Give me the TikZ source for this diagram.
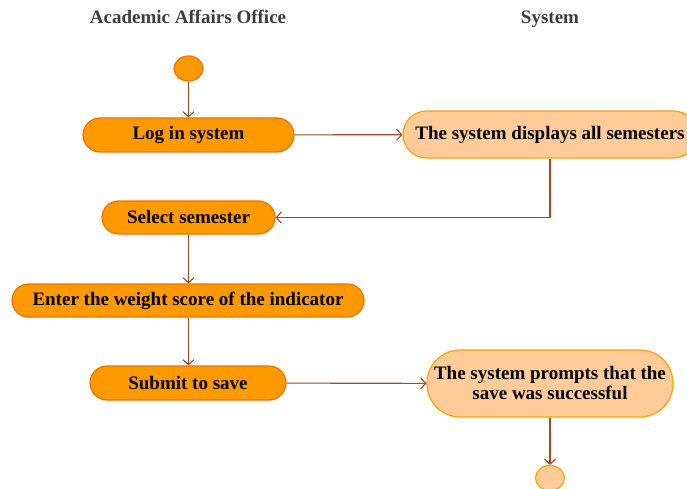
\documentclass[tikz,border=0pt]{standalone}
\usepackage{fontspec}
\setmainfont{Liberation Serif}
\usetikzlibrary{arrows.meta,shapes.geometric}
\definecolor{actfill}{RGB}{255,153,0}
\definecolor{actline}{RGB}{242,112,0}
\definecolor{sysfill}{RGB}{255,204,153}
\definecolor{sysline}{RGB}{255,160,0}
\definecolor{flow}{RGB}{165,72,28}
\definecolor{lanetext}{RGB}{60,60,60}
\tikzset{
  activity/.style={draw=actline, fill=actfill, line width=1.2pt, inner sep=0pt,
    minimum height=34pt, rounded corners=17pt,
    font=\bfseries\fontsize{19}{20}\selectfont},
  sysactivity/.style={activity, draw=sysline, fill=sysfill},
  startstate/.style={ellipse, draw=actline, fill=actfill, line width=1.2pt,
    inner sep=0pt, minimum width=29pt, minimum height=25pt},
  endstate/.style={startstate, draw=sysline, fill=sysfill},
  lanetitle/.style={text=lanetext, anchor=base, font=\bfseries\fontsize{19}{20}\selectfont},
  flowarrow/.style={draw=flow, line width=1.1pt, -{Straight Barb[length=5pt,width=11pt]}}
}

\begin{document}
\begin{tikzpicture}[x=1pt,y=-1pt]
   \useasboundingbox (0,0) rectangle (687,489);
   % lanes
   \node[lanetitle] (office) at (188,24) {Academic Affairs Office};
   \node[lanetitle] (system) at (550,24) {System};
   % states
   \node[startstate] (start) at (188.5,68.5) {};
   \node[activity, minimum width=211pt] (login) at (188.5,135) {Log in system};
   \node[sysactivity, minimum width=294pt, minimum height=47pt, rounded corners=23.5pt] (displays) at (550,134.5) {The system displays all semesters};
   \node[activity, minimum width=173pt, minimum height=33pt, rounded corners=16.5pt] (select) at (188.5,217.5) {Select semester};
   \node[activity, minimum width=352pt, minimum height=33pt, rounded corners=16.5pt] (enter) at (188,300.5) {Enter the weight score of the indicator};
   \node[activity, minimum width=196pt] (submit) at (188,383) {Submit to save};
   \node[sysactivity, minimum width=246pt, minimum height=67pt, rounded corners=33pt, align=center] (prompts) at (550,383.5) {The system prompts that the\\save was successful};
   \node[endstate] (end) at (550,478) {};
   % flows
   \draw[flowarrow] (start) -- (login);
   \draw[flowarrow] (login) -- (displays);
   \draw[flowarrow] (displays.south) |- (select.east);
   \draw[flowarrow] (select.south) -- (select.south |- enter.north);
   \draw[flowarrow] (enter.south -| select.south) -- (select.south |- submit.north);
   \draw[flowarrow] (submit) -- (prompts);
   \draw[flowarrow] (prompts) -- (end);
\end{tikzpicture}
\end{document}
